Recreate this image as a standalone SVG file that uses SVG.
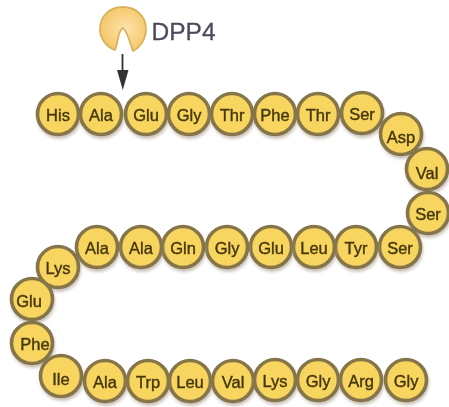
<svg xmlns="http://www.w3.org/2000/svg" width="449" height="407" viewBox="0 0 449 407">
<defs>
<filter id="soft" x="-20%" y="-20%" width="140%" height="140%"><feGaussianBlur stdDeviation="0.7"/></filter>
<filter id="shade" x="-30%" y="-30%" width="160%" height="160%"><feGaussianBlur stdDeviation="1.6"/></filter>
<radialGradient id="enz" cx="0.55" cy="0.5" r="0.55"><stop offset="0" stop-color="#fde3ad"/><stop offset="1" stop-color="#f5c768"/></radialGradient>
<g id="bead"><circle cx="1" cy="3" r="22" fill="#a89a8c" opacity="0.6" filter="url(#shade)"/><circle r="20.500" fill="#f8d55f" stroke="#85754a" stroke-width="3.600"/></g>
</defs>
<style>
text{font-family:"Liberation Sans",Arial,sans-serif;fill:#45370f;font-size:16.500px;text-anchor:middle;dominant-baseline:central;stroke:#45370f;stroke-width:.4}
.lbl{font-size:24.500px;fill:#4e4a5c;stroke:#4e4a5c;stroke-width:.3;text-anchor:start}
</style>
<rect width="449" height="407" fill="#fff"/>
<g filter="url(#soft)">
<g id="connectors"><path d="M122.500 54V74" stroke="#333" stroke-width="1.800" fill="none"/><path d="M117 70H128.500L122.800 90Z" fill="#333"/></g>
<g id="dpp4"><path d="M115 50C106 47 100 38 100 29C100 16 110 7 122.500 7C136 7 146 16 146 29C146 38 141 47 133 51C130 43 127 30 122.800 28C118 30 118 43 115 50Z" fill="url(#enz)" stroke="#d9b25c" stroke-width="1.800"/><text class="lbl" x="151.500" y="31">DPP4</text></g>
<g id="n1"><use href="#bead" x="58" y="114"/><text x="58" y="115">His</text></g>
<g id="n2"><use href="#bead" x="101" y="114"/><text x="101" y="115">Ala</text></g>
<g id="n3"><use href="#bead" x="146" y="114"/><text x="146" y="115">Glu</text></g>
<g id="n4"><use href="#bead" x="189" y="114"/><text x="189" y="115">Gly</text></g>
<g id="n5"><use href="#bead" x="232" y="114"/><text x="232" y="115">Thr</text></g>
<g id="n6"><use href="#bead" x="275" y="114"/><text x="275" y="115">Phe</text></g>
<g id="n7"><use href="#bead" x="318" y="114"/><text x="318" y="115">Thr</text></g>
<g id="n8"><use href="#bead" x="362" y="113"/><text x="362" y="114">Ser</text></g>
<g id="n9"><use href="#bead" x="401" y="134"/><text x="401" y="137">Asp</text></g>
<g id="n10"><use href="#bead" x="427" y="169"/><text x="427" y="173">Val</text></g>
<g id="n11"><use href="#bead" x="428" y="213"/><text x="428" y="214">Ser</text></g>
<g id="n12"><use href="#bead" x="400" y="247"/><text x="400" y="248">Ser</text></g>
<g id="n13"><use href="#bead" x="356" y="247"/><text x="356" y="248">Tyr</text></g>
<g id="n14"><use href="#bead" x="314" y="247"/><text x="314" y="248">Leu</text></g>
<g id="n15"><use href="#bead" x="271" y="247"/><text x="271" y="248">Glu</text></g>
<g id="n16"><use href="#bead" x="227" y="247"/><text x="227" y="248">Gly</text></g>
<g id="n17"><use href="#bead" x="183" y="247"/><text x="183" y="248">Gln</text></g>
<g id="n18"><use href="#bead" x="141" y="247"/><text x="141" y="248">Ala</text></g>
<g id="n19"><use href="#bead" x="97" y="247"/><text x="97" y="248">Ala</text></g>
<g id="n20"><use href="#bead" x="58" y="267"/><text x="58" y="268">Lys</text></g>
<g id="n21"><use href="#bead" x="32" y="299"/><text x="29" y="301">Glu</text></g>
<g id="n22"><use href="#bead" x="32" y="343"/><text x="35" y="344">Phe</text></g>
<g id="n23"><use href="#bead" x="61" y="376"/><text x="61" y="379">Ile</text></g>
<g id="n24"><use href="#bead" x="105" y="381"/><text x="105" y="382">Ala</text></g>
<g id="n25"><use href="#bead" x="148" y="381"/><text x="148" y="382">Trp</text></g>
<g id="n26"><use href="#bead" x="190" y="381"/><text x="190" y="382">Leu</text></g>
<g id="n27"><use href="#bead" x="233" y="381"/><text x="233" y="382">Val</text></g>
<g id="n28"><use href="#bead" x="275" y="380"/><text x="275" y="381">Lys</text></g>
<g id="n29"><use href="#bead" x="318" y="380"/><text x="318" y="381">Gly</text></g>
<g id="n30"><use href="#bead" x="361" y="380"/><text x="361" y="381">Arg</text></g>
<g id="n31"><use href="#bead" x="406" y="380"/><text x="406" y="381">Gly</text></g>
</g>
</svg>
